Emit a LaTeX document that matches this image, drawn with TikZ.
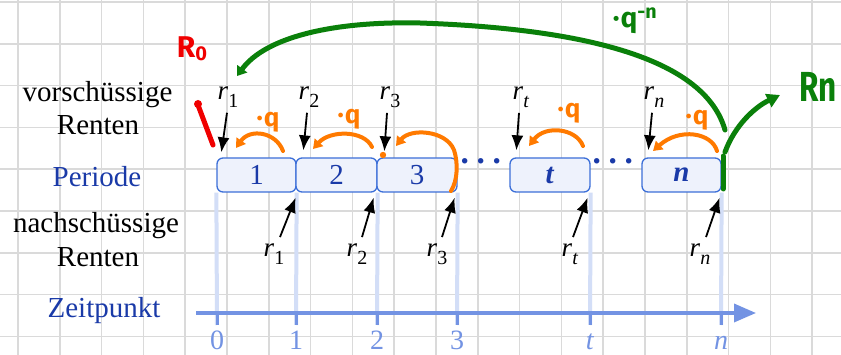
\documentclass[tikz,border=0pt]{standalone}
\usepackage{fontspec}
\usepackage{graphicx}
\setmainfont{Liberation Serif}
\newfontfamily\handfont{Fira Sans}
\usetikzlibrary{arrows.meta,calc}
\definecolor{gridc}{HTML}{DADADA}
\definecolor{lbldark}{HTML}{1A3AA8}
\definecolor{boxborder}{HTML}{3C6FD8}
\definecolor{boxfill}{HTML}{EEF2FC}
\definecolor{axisc}{HTML}{7393E3}
\definecolor{vlinec}{HTML}{D3DEF7}
\definecolor{orangec}{HTML}{FF7A00}
\definecolor{greenc}{HTML}{0A800A}
\definecolor{redc}{HTML}{F00000}
\newcommand\rlab[1]{\textit{r}\raisebox{-0.28em}{\fontsize{20}{20}\selectfont #1}}
\newcommand\dotsrow{\textperiodcentered\kern1pt\textperiodcentered\kern1pt\textperiodcentered}
\tikzset{
  txt/.style={font=\fontsize{29}{34}\selectfont, inner sep=0pt, anchor=base},
  rtxt/.style={font=\fontsize{27}{30}\selectfont, inner sep=0pt, anchor=base},
  ticktxt/.style={font=\fontsize{28}{30}\selectfont, inner sep=0pt, anchor=base, text=axisc},
  boxnode/.style={draw=boxborder, fill=boxfill, rounded corners=6, line width=1.3,
    minimum height=34, inner sep=0pt, font=\fontsize{29}{34}\selectfont, text=lbldark},
  dotnode/.style={inner sep=0pt, text=lbldark, font=\fontsize{46}{46}\selectfont},
  blk/.style={line width=1.8, -{Latex[length=15,width=12]}},
  oarr/.style={draw=orangec, line width=4, line cap=round, -{Triangle[length=9,width=11]}},
  garr/.style={draw=greenc, line width=5, line cap=round},
  vline/.style={draw=vlinec, line width=4},
  axisline/.style={draw=axisc, line width=3.5, -{Triangle[length=22,width=18]}},
  tickline/.style={draw=axisc, line width=3},
  hand/.style={font=\handfont\bfseries\fontsize{26}{26}\selectfont, inner sep=0pt},
}
\begin{document}
\begin{tikzpicture}[x=1pt,y=-1pt]
\useasboundingbox (0,0) rectangle (841,355);
\fill[white] (0,0) rectangle (841,355);
% grid
\foreach \i in {0,...,19} \draw[gridc,line width=1.5] ({18+41.8*\i},0) -- ({18+41.8*\i},355);
\foreach \j in {0,...,8} \draw[gridc,line width=1.5] (0,{2+41.8*\j}) -- (841,{2+41.8*\j});

% boxes
\node[boxnode, minimum width=79] (b1) at (256.5,175) {1};
\node[boxnode, minimum width=81] (b2) at (336.5,175) {2};
\node[boxnode, minimum width=80] (b3) at (417,175) {3};
\node[boxnode, minimum width=80] (bt) at (550,175) {\textbf{\textit{t}}};
\node[boxnode, minimum width=79] (bn) at (681.5,175) {\textbf{\textit{n}}};
\node[dotnode] (d1) at (481,168) {\dotsrow};
\node[dotnode] (d2) at (613,168) {\dotsrow};

% time axis
\coordinate (k0) at (217,325);
\coordinate (k1) at (296,325);
\coordinate (k2) at (377,325);
\coordinate (k3) at (457,325);
\coordinate (k4) at (590,325);
\coordinate (k5) at (721,325);
\draw[vline] (b1.south west) -- (k0);
\draw[vline] (b1.south east) -- (k1);
\draw[vline] (b2.south east) -- (k2);
\draw[vline] (b3.south east) -- (k3);
\draw[vline] (bt.south east) -- (k4);
\draw[vline] (bn.south east) -- (k5);
\coordinate (axs) at (196,313);
\coordinate (axe) at (756,313);
\draw[axisline] (axs) -- (axe);
\foreach \k in {k0,k1,k2,k3,k4,k5} \draw[tickline] ($(\k)+(0,-12)$) -- (\k);
\node[ticktxt] (l0) at (217,350) {0};
\node[ticktxt] (l1) at (296,350) {1};
\node[ticktxt] (l2) at (377,350) {2};
\node[ticktxt] (l3) at (457,350) {3};
\node[ticktxt] (l4) at (590,350) {\textit{t}};
\node[ticktxt] (l5) at (721,350) {\textit{n}};

% left labels
\node[txt] (vs1) at (97.5,102) {vorschüssige};
\node[txt] (vs2) at (98,135) {Renten};
\node[txt, text=lbldark] (per) at (97,187) {Periode};
\node[txt] (ns1) at (96,233) {nachschüssige};
\node[txt] (ns2) at (98,267) {Renten};
\node[txt, text=lbldark] (zp) at (104,318) {Zeitpunkt};

% upper r labels
\node[rtxt] (ru1) at (228,100) {\rlab{1}};
\node[rtxt] (ru2) at (309,100) {\rlab{2}};
\node[rtxt] (ru3) at (390,100) {\rlab{3}};
\node[rtxt] (rut) at (521,100) {\rlab{\textit{t}}};
\node[rtxt] (run) at (654,100) {\rlab{\textit{n}}};
\draw[blk] ($(ru1.south)+(-1,5)$) -- ($(b1.north west)+(5,-5)$);
\draw[blk] ($(ru2.south)+(-2,5)$) -- ($(b2.north west)+(8,-7)$);
\draw[blk] ($(ru3.south)+(-3,5)$) -- ($(b3.north west)+(8,-6)$);
\draw[blk] ($(rut.south)+(-2,5)$) -- ($(bt.north west)+(7,-7)$);
\draw[blk] ($(run.south)+(-2,5)$) -- ($(bn.north west)+(7,-7)$);

% lower r labels
\node[rtxt] (rl1) at (274,257) {\rlab{1}};
\node[rtxt] (rl2) at (357,257) {\rlab{2}};
\node[rtxt] (rl3) at (437,257) {\rlab{3}};
\node[rtxt] (rlt) at (570,257) {\rlab{\textit{t}}};
\node[rtxt] (rln) at (700,257) {\rlab{\textit{n}}};
\draw[blk] ($(rl1.north)+(6,-7)$) -- ($(b1.south east)+(-1,5)$);
\draw[blk] ($(rl2.north)+(5,-7)$) -- ($(b2.south east)+(-4,5)$);
\draw[blk] ($(rl3.north)+(5,-7)$) -- ($(b3.south east)+(-3,5)$);
\draw[blk] ($(rlt.north)+(3,-7)$) -- ($(bt.south east)+(-3,5)$);
\draw[blk] ($(rln.north)+(6,-7)$) -- ($(bn.south east)+(-2,5)$);

% orange hand annotations
\draw[oarr] (283,151) .. controls (276,132) and (250,128) .. (236,148);
\draw[oarr] (372,147) .. controls (364,130) and (330,130) .. (313,149);
\draw[oarr] (451,191) .. controls (458,180) and (458,162) .. (454,150) .. controls (446,130) and (410,128) .. (396,146);
\draw[oarr] (583,146) .. controls (576,128) and (545,125) .. (529,146);
\draw[oarr] (717,151) .. controls (712,133) and (680,127) .. (653,151);
\fill[orangec] (383,155) circle (3.2);
\node[hand, text=orangec] (q1) at (268,122) {·\kern1pt q};
\node[hand, text=orangec] (q2) at (349,119) {·\kern1pt q};
\node[hand, text=orangec] (qt) at (569,113) {·\kern1pt q};
\node[hand, text=orangec] (qn) at (697,120) {·\kern1pt q};

% red annotations
\node[hand, text=redc, font=\handfont\bfseries\fontsize{30}{30}\selectfont] (r0) at (192,49) {R\raisebox{-3pt}{\fontsize{20}{20}\selectfont 0}};
\draw[draw=redc, line width=5, line cap=round] (198,105) -- (213,145);
\fill[redc] (198,104) circle (4);

% green annotations
\draw[garr, -{Triangle[length=9,width=12]}] (725,130) .. controls (705,60) and (590,29) .. (420,23) .. controls (330,21) and (265,38) .. (237,76);
\node[hand, text=greenc, font=\handfont\bfseries\fontsize{28}{28}\selectfont] (gq) at (635,21) {·\kern1pt q\textsuperscript{-n}};
\draw[garr] (723,156) -- (723,189);
\draw[garr, -{Triangle[length=13,width=14]}] (725,152) .. controls (735,125) and (755,107) .. (780,95);
\node[hand, text=greenc, font=\handfont\bfseries\fontsize{42}{42}\selectfont] (rn) at (818,87) {\scalebox{0.75}[1]{Rn}};
\end{tikzpicture}
\end{document}
